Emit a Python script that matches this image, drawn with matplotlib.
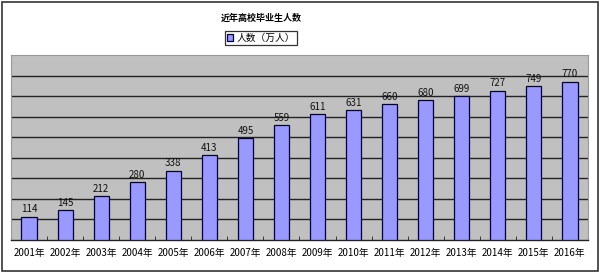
import matplotlib.pyplot as plt
from matplotlib.patches import Rectangle

plt.rcParams['font.family'] = ['Noto Sans CJK SC', 'DejaVu Sans']

years = ['2001年', '2002年', '2003年', '2004年', '2005年', '2006年', '2007年', '2008年',
         '2009年', '2010年', '2011年', '2012年', '2013年', '2014年', '2015年', '2016年']
graduates = [114, 145, 212, 280, 338, 413, 495, 559, 611, 631, 660, 680, 699, 727, 749, 770]

fig = plt.figure(figsize=(6, 2.77), dpi=100)
fig.patch.set_facecolor('white')
# outer frame of the picture
fig.add_artist(Rectangle((0.004, 0.02), 0.992, 0.972, transform=fig.transFigure,
                         fill=False, edgecolor='#333333', linewidth=1.2))

ax = fig.add_axes([0.0183, 0.1336, 0.9617, 0.6678])
ax.set_facecolor('#c0c0c0')

x = range(len(years))
bars = ax.bar(x, graduates, width=0.42, color='#9999ff', edgecolor='#000040',
              linewidth=0.9, label='人数（万人）', zorder=3)
for xi, v in zip(x, graduates):
    ax.text(xi, v + 12, str(v), ha='center', va='bottom', fontsize=7, color='#111111', zorder=4)

ax.set_xlim(-0.5, len(years) - 0.5)
ax.set_ylim(0, 900)
ax.set_yticks(range(100, 900, 100))
ax.yaxis.grid(True, color='#222222', linewidth=1.0, zorder=1)
ax.tick_params(axis='y', length=0, labelleft=False)
ax.set_xticks(list(x))
ax.set_xticklabels(years, fontsize=7)
ax.tick_params(axis='x', length=0, pad=6)
ax.set_xticks([i + 0.5 for i in range(len(years) - 1)], minor=True)
ax.tick_params(axis='x', which='minor', length=3, direction='in', color='#222222')
for side in ['top', 'right', 'left']:
    ax.spines[side].set_color('#999999')
ax.spines['bottom'].set_color('#222222')
ax.spines['bottom'].set_linewidth(1.0)

fig.text(0.435, 0.935, '近年高校毕业生人数', ha='center', va='center', fontsize=6.5, fontweight='bold')
leg = fig.legend(handles=[bars], loc='center', bbox_to_anchor=(0.435, 0.863), fontsize=7,
                 frameon=True, fancybox=False, edgecolor='#000000', handlelength=0.6,
                 handleheight=0.6, handletextpad=0.3, borderpad=0.25)
leg.get_frame().set_linewidth(0.9)

fig.savefig('out.png', dpi=100)
